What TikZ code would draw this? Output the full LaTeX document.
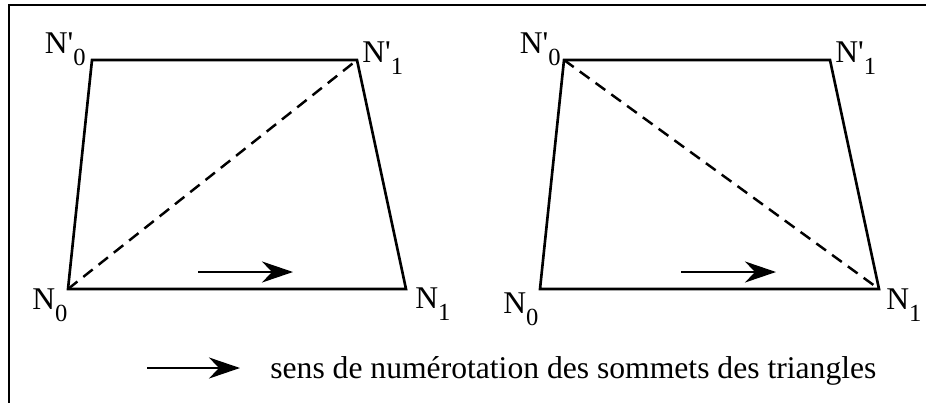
\documentclass[tikz,border=0pt]{standalone}
\usepackage{fontspec}
\setmainfont{Liberation Serif}
\usetikzlibrary{arrows.meta}
\newcommand{\nsub}[1]{\raisebox{-0.4em}{\fontsize{14}{14}\selectfont #1}}

\begin{document}
\begin{tikzpicture}[
    x=0.02cm, y=-0.02cm,
    lbl/.style={inner sep=0pt, font=\fontsize{18}{21}\selectfont},
    edge/.style={line width=1.5pt, line join=miter},
    diag/.style={line width=1.4pt, dash pattern=on 0.24cm off 0.15cm},
    sens/.style={line width=1.6pt, -{Stealth[length=0.62cm, width=0.42cm, inset=0.2cm]}}
  ]
  \useasboundingbox (0,0) rectangle (926,403);
  \draw[line width=1.6pt] (926,5) -- (9,5) -- (9,403);

  % premier quadrilatere
  \coordinate (a0)  at (68,  289);
  \coordinate (a1)  at (406, 289);
  \coordinate (a0p) at (92,  60);
  \coordinate (a1p) at (357, 60);
  \draw[edge] (a0) -- (a1) -- (a1p) -- (a0p) -- cycle;
  \draw[diag] (a0) -- (a1p);
  \node[lbl, anchor=base east] (la0p) at (86, 53)  {N\textquotesingle\nsub{0}};
  \node[lbl, anchor=base west] (la1p) at (362, 62) {N\textquotesingle\nsub{1}};
  \node[lbl, anchor=base west] (la0)  at (32, 309) {N\nsub{0}};
  \node[lbl, anchor=base west] (la1)  at (415, 308) {N\nsub{1}};
  \coordinate (as) at (198, 272);
  \coordinate (ae) at (293, 272);
  \draw[sens] (as) -- (ae);

  % second quadrilatere
  \coordinate (b0)  at (540, 289);
  \coordinate (b1)  at (879, 289);
  \coordinate (b0p) at (564, 60);
  \coordinate (b1p) at (830, 60);
  \draw[edge] (b0) -- (b1) -- (b1p) -- (b0p) -- cycle;
  \draw[diag] (b0p) -- (b1);
  \node[lbl, anchor=base east] (lb0p) at (561, 53)  {N\textquotesingle\nsub{0}};
  \node[lbl, anchor=base west] (lb1p) at (835, 62)  {N\textquotesingle\nsub{1}};
  \node[lbl, anchor=base west] (lb0)  at (503, 313) {N\nsub{0}};
  \node[lbl, anchor=base west] (lb1)  at (886, 309) {N\nsub{1}};
  \coordinate (bs) at (681, 272);
  \coordinate (be) at (776, 272);
  \draw[sens] (bs) -- (be);

  % legende
  \coordinate (ls) at (147, 368);
  \coordinate (le) at (240, 368);
  \draw[sens] (ls) -- (le);
  \node[lbl, anchor=base west] (leg) at (270, 378)
    {sens de numérotation des sommets des triangles};
\end{tikzpicture}
\end{document}
